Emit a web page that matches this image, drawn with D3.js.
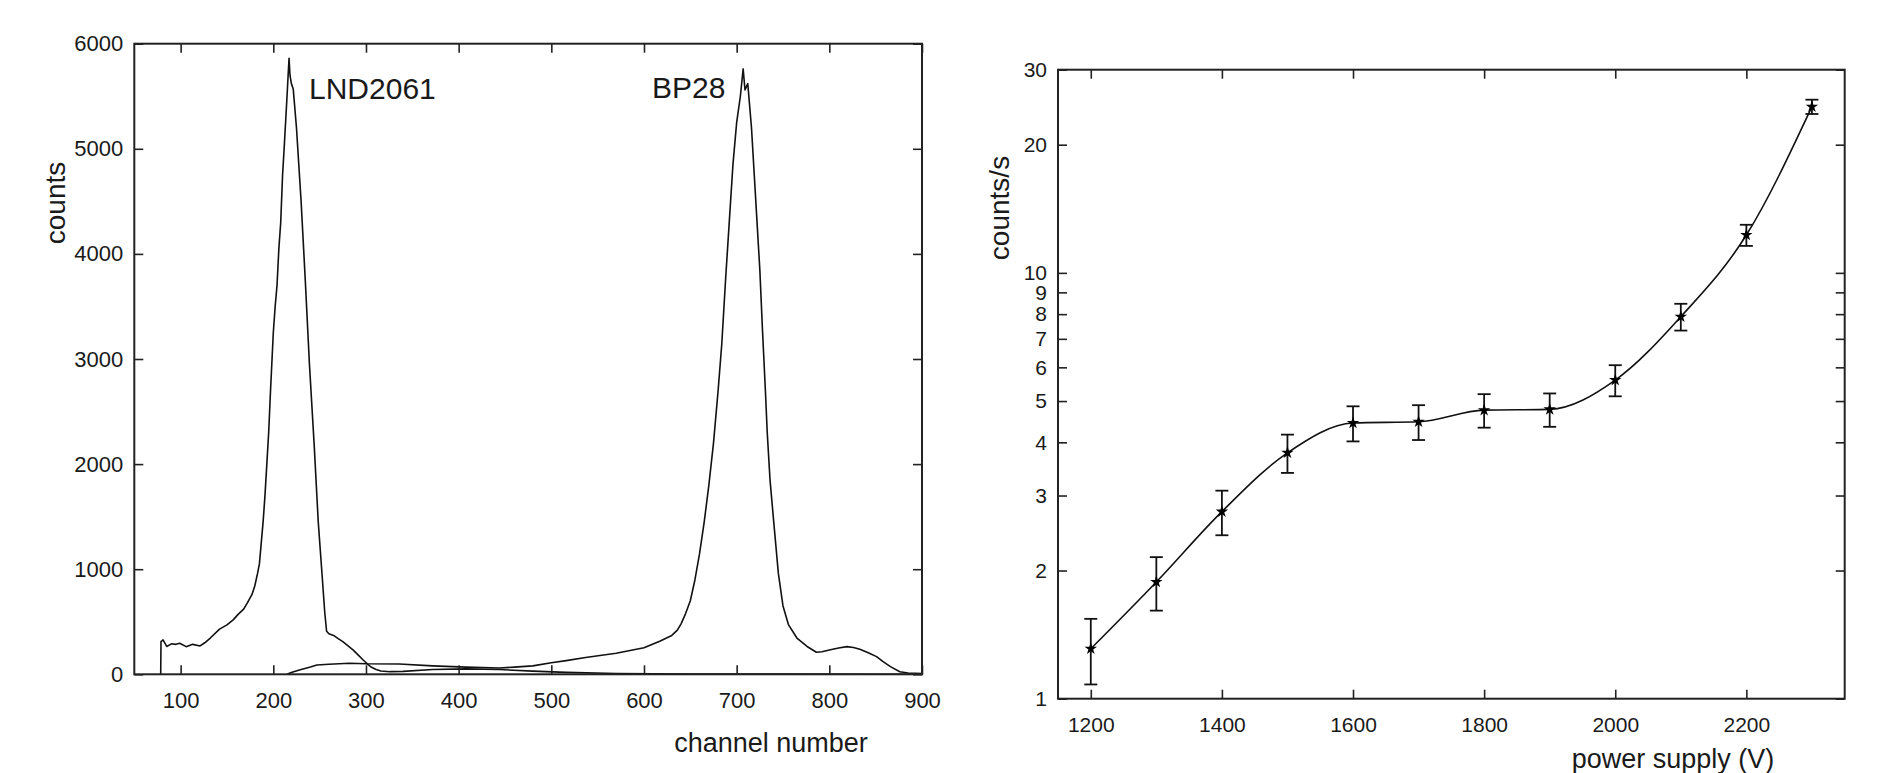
<!DOCTYPE html>
<html>
<head>
<meta charset="utf-8">
<script src="https://cdn.jsdelivr.net/npm/d3@7"></script>
<style>
  body { margin: 0; background: #fff; }
  svg { display: block; }
  text { font-family: "Liberation Sans", Arial, sans-serif; fill: #1a1a1a; }
</style>
</head>
<body>
<div id="chart"></div>
<script>
// spectrum of the LND2061 tube: [channel, counts]
const lnd2061 = [
  [78.5, 0], [78.8, 310], [81, 327], [85, 265], [90, 290], [95, 285], [99, 295], [106, 263],
  [113, 285], [121, 270], [126, 300], [132, 345], [142, 430], [150, 470], [157, 520], [162, 570],
  [168, 620], [172, 680], [177, 760], [180, 840], [183, 960], [185, 1050], [187, 1250], [189, 1450],
  [191, 1700], [193, 2000], [195, 2300], [197, 2700], [200, 3250], [202, 3500], [204, 3700], [206, 4050],
  [208, 4300], [210, 4750], [212, 5050], [214.5, 5450], [216, 5700], [217, 5860], [218, 5700],
  [219.5, 5620], [221.5, 5570], [225, 5200], [230, 4500], [234.5, 3750], [239, 2950], [244, 2200],
  [248.5, 1450], [253, 900], [255.5, 590], [257.5, 410], [260, 385], [265, 370], [270, 340], [275, 311],
  [280, 275], [286, 232], [292, 180], [297, 136], [302, 95], [306, 67], [311, 45], [316, 32], [326, 25],
  [340, 28], [372, 45], [408, 52], [444, 45], [480, 30], [516, 18], [570, 8], [650, 3], [750, 2], [900, 0]
];
// spectrum of the BP28 tube: [channel, counts]
const bp28 = [
  [215, 0], [218, 12], [222, 25], [230, 45], [240, 70], [247, 89], [260, 95], [282, 105], [300, 100],
  [336, 98], [372, 80], [408, 68], [444, 60], [460, 68], [480, 80], [500, 110], [516, 130], [537, 160],
  [570, 200], [600, 252], [617, 315], [630, 370], [636, 420], [640, 480], [645, 580], [650, 700],
  [655, 900], [660, 1150], [665, 1450], [670, 1800], [675, 2200], [680, 2700], [684, 3150], [688, 3750],
  [692, 4300], [696, 4850], [700, 5250], [704, 5500], [707, 5760], [709, 5560], [712, 5620], [716, 5200],
  [719, 4750], [722, 4300], [725, 3850], [728, 3250], [731, 2700], [733, 2300], [736, 1850], [740, 1450],
  [745, 960], [750, 650], [756, 470], [765, 345], [776, 265], [786, 210], [792, 215], [800, 232],
  [810, 250], [819, 263], [826, 255], [833, 238], [842, 205], [851, 168], [858, 120], [866, 73],
  [876, 25], [885, 12], [900, 8]
];
const channelTicks = [100, 200, 300, 400, 500, 600, 700, 800, 900];
const countTicks = [0, 1000, 2000, 3000, 4000, 5000, 6000];

// plateau measurement
const voltage = [1200, 1300, 1400, 1500, 1600, 1700, 1800, 1900, 2000, 2100, 2200, 2300];
const rate = [1.31, 1.88, 2.75, 3.78, 4.44, 4.47, 4.76, 4.78, 5.60, 7.89, 12.27, 24.56];
const rateErr = [0.23, 0.27, 0.33, 0.39, 0.42, 0.42, 0.43, 0.43, 0.47, 0.57, 0.70, 0.95];
const voltTicks = [1200, 1400, 1600, 1800, 2000, 2200];
const rateTicks = [1, 2, 3, 4, 5, 6, 7, 8, 9, 10, 20, 30];

const width = 1881;
const height = 773;
const tick = 9;

const svg = d3.select("#chart")
  .append("svg")
  .attr("width", width)
  .attr("height", height);

function frame(g, x, y) {
  g.append("rect")
    .attr("x", x.range()[0])
    .attr("y", y.range()[1])
    .attr("width", x.range()[1] - x.range()[0])
    .attr("height", y.range()[0] - y.range()[1])
    .attr("fill", "none")
    .attr("stroke", "#222")
    .attr("stroke-width", 2);
}

function axes(g, x, y, xt, yt, yfmt, fs) {
  const x0 = x.range()[0], x1 = x.range()[1];
  const y0 = y.range()[0], y1 = y.range()[1];
  const styl = (sel) => {
    sel.select(".domain").remove();
    sel.selectAll("line").attr("stroke", "#222").attr("stroke-width", 1.6);
    sel.selectAll("text").style("font-size", fs + "px").attr("fill", "#1a1a1a");
  };
  g.append("g").attr("transform", `translate(0,${y0})`)
    .call(d3.axisBottom(x).tickValues(xt).tickSize(-tick).tickSizeOuter(0).tickPadding(18).tickFormat(d3.format("d")))
    .call(styl);
  g.append("g").attr("transform", `translate(0,${y1})`)
    .call(d3.axisTop(x).tickValues(xt).tickSize(-tick).tickSizeOuter(0).tickFormat(""))
    .call(styl);
  g.append("g").attr("transform", `translate(${x0},0)`)
    .call(d3.axisLeft(y).tickValues(yt).tickSize(-tick).tickSizeOuter(0).tickPadding(11).tickFormat(yfmt))
    .call(styl);
  g.append("g").attr("transform", `translate(${x1},0)`)
    .call(d3.axisRight(y).tickValues(yt).tickSize(-tick).tickSizeOuter(0).tickFormat(""))
    .call(styl);
}

// ---- left: pulse height spectra ----
const xL = d3.scaleLinear().domain([50, 900]).range([134.3, 922]);
const yL = d3.scaleLinear().domain([0, 6000]).range([674.3, 43.7]);
const left = svg.append("g");

const spec = d3.line().x((d) => xL(d[0])).y((d) => yL(d[1]));
[lnd2061, bp28].forEach((s) => {
  left.append("path")
    .datum(s)
    .attr("d", spec)
    .attr("fill", "none")
    .attr("stroke", "#111")
    .attr("stroke-width", 1.6)
    .attr("stroke-linejoin", "round");
});
axes(left, xL, yL, channelTicks, countTicks, d3.format("d"), 22);
frame(left, xL, yL);

left.append("text").attr("x", 309).attr("y", 99).style("font-size", "30px").text("LND2061");
left.append("text").attr("x", 652).attr("y", 98).style("font-size", "30px").text("BP28");
left.append("text").attr("x", 771).attr("y", 752).attr("text-anchor", "middle")
  .style("font-size", "27px").text("channel number");
left.append("text").attr("transform", "translate(65,203) rotate(-90)").attr("text-anchor", "middle")
  .style("font-size", "28px").text("counts");

// ---- right: counting rate vs supply voltage ----
const xR = d3.scaleLinear().domain([1150, 2350]).range([1058, 1844.7]);
const yR = d3.scaleLog().domain([1, 30]).range([698.7, 69.7]);
const right = svg.append("g");
const pts = voltage.map((v, i) => ({ v: v, r: rate[i], e: rateErr[i] }));

right.append("path")
  .datum(pts)
  .attr("d", d3.line().x((d) => xR(d.v)).y((d) => yR(d.r)).curve(d3.curveMonotoneX))
  .attr("fill", "none")
  .attr("stroke", "#111")
  .attr("stroke-width", 1.6);

const bars = right.append("g").attr("stroke", "#111").attr("stroke-width", 1.8);
pts.forEach((d) => {
  const x = xR(d.v);
  const top = yR(d.r + d.e), bot = yR(d.r - d.e);
  bars.append("line").attr("x1", x).attr("x2", x).attr("y1", top).attr("y2", bot);
  bars.append("line").attr("x1", x - 6.5).attr("x2", x + 6.5).attr("y1", top).attr("y2", top);
  bars.append("line").attr("x1", x - 6.5).attr("x2", x + 6.5).attr("y1", bot).attr("y2", bot);
});
right.append("g")
  .selectAll("path")
  .data(pts)
  .enter().append("path")
  .attr("transform", (d) => `translate(${xR(d.v)},${yR(d.r)})`)
  .attr("d", d3.symbol().type(d3.symbolStar).size(48))
  .attr("fill", "#000");

axes(right, xR, yR, voltTicks, rateTicks, d3.format("d"), 21);
frame(right, xR, yR);

right.append("text").attr("x", 1673).attr("y", 768).attr("text-anchor", "middle")
  .style("font-size", "27px").text("power supply (V)");
right.append("text").attr("transform", "translate(1009,208) rotate(-90)").attr("text-anchor", "middle")
  .style("font-size", "28px").text("counts/s");
</script>
</body>
</html>
